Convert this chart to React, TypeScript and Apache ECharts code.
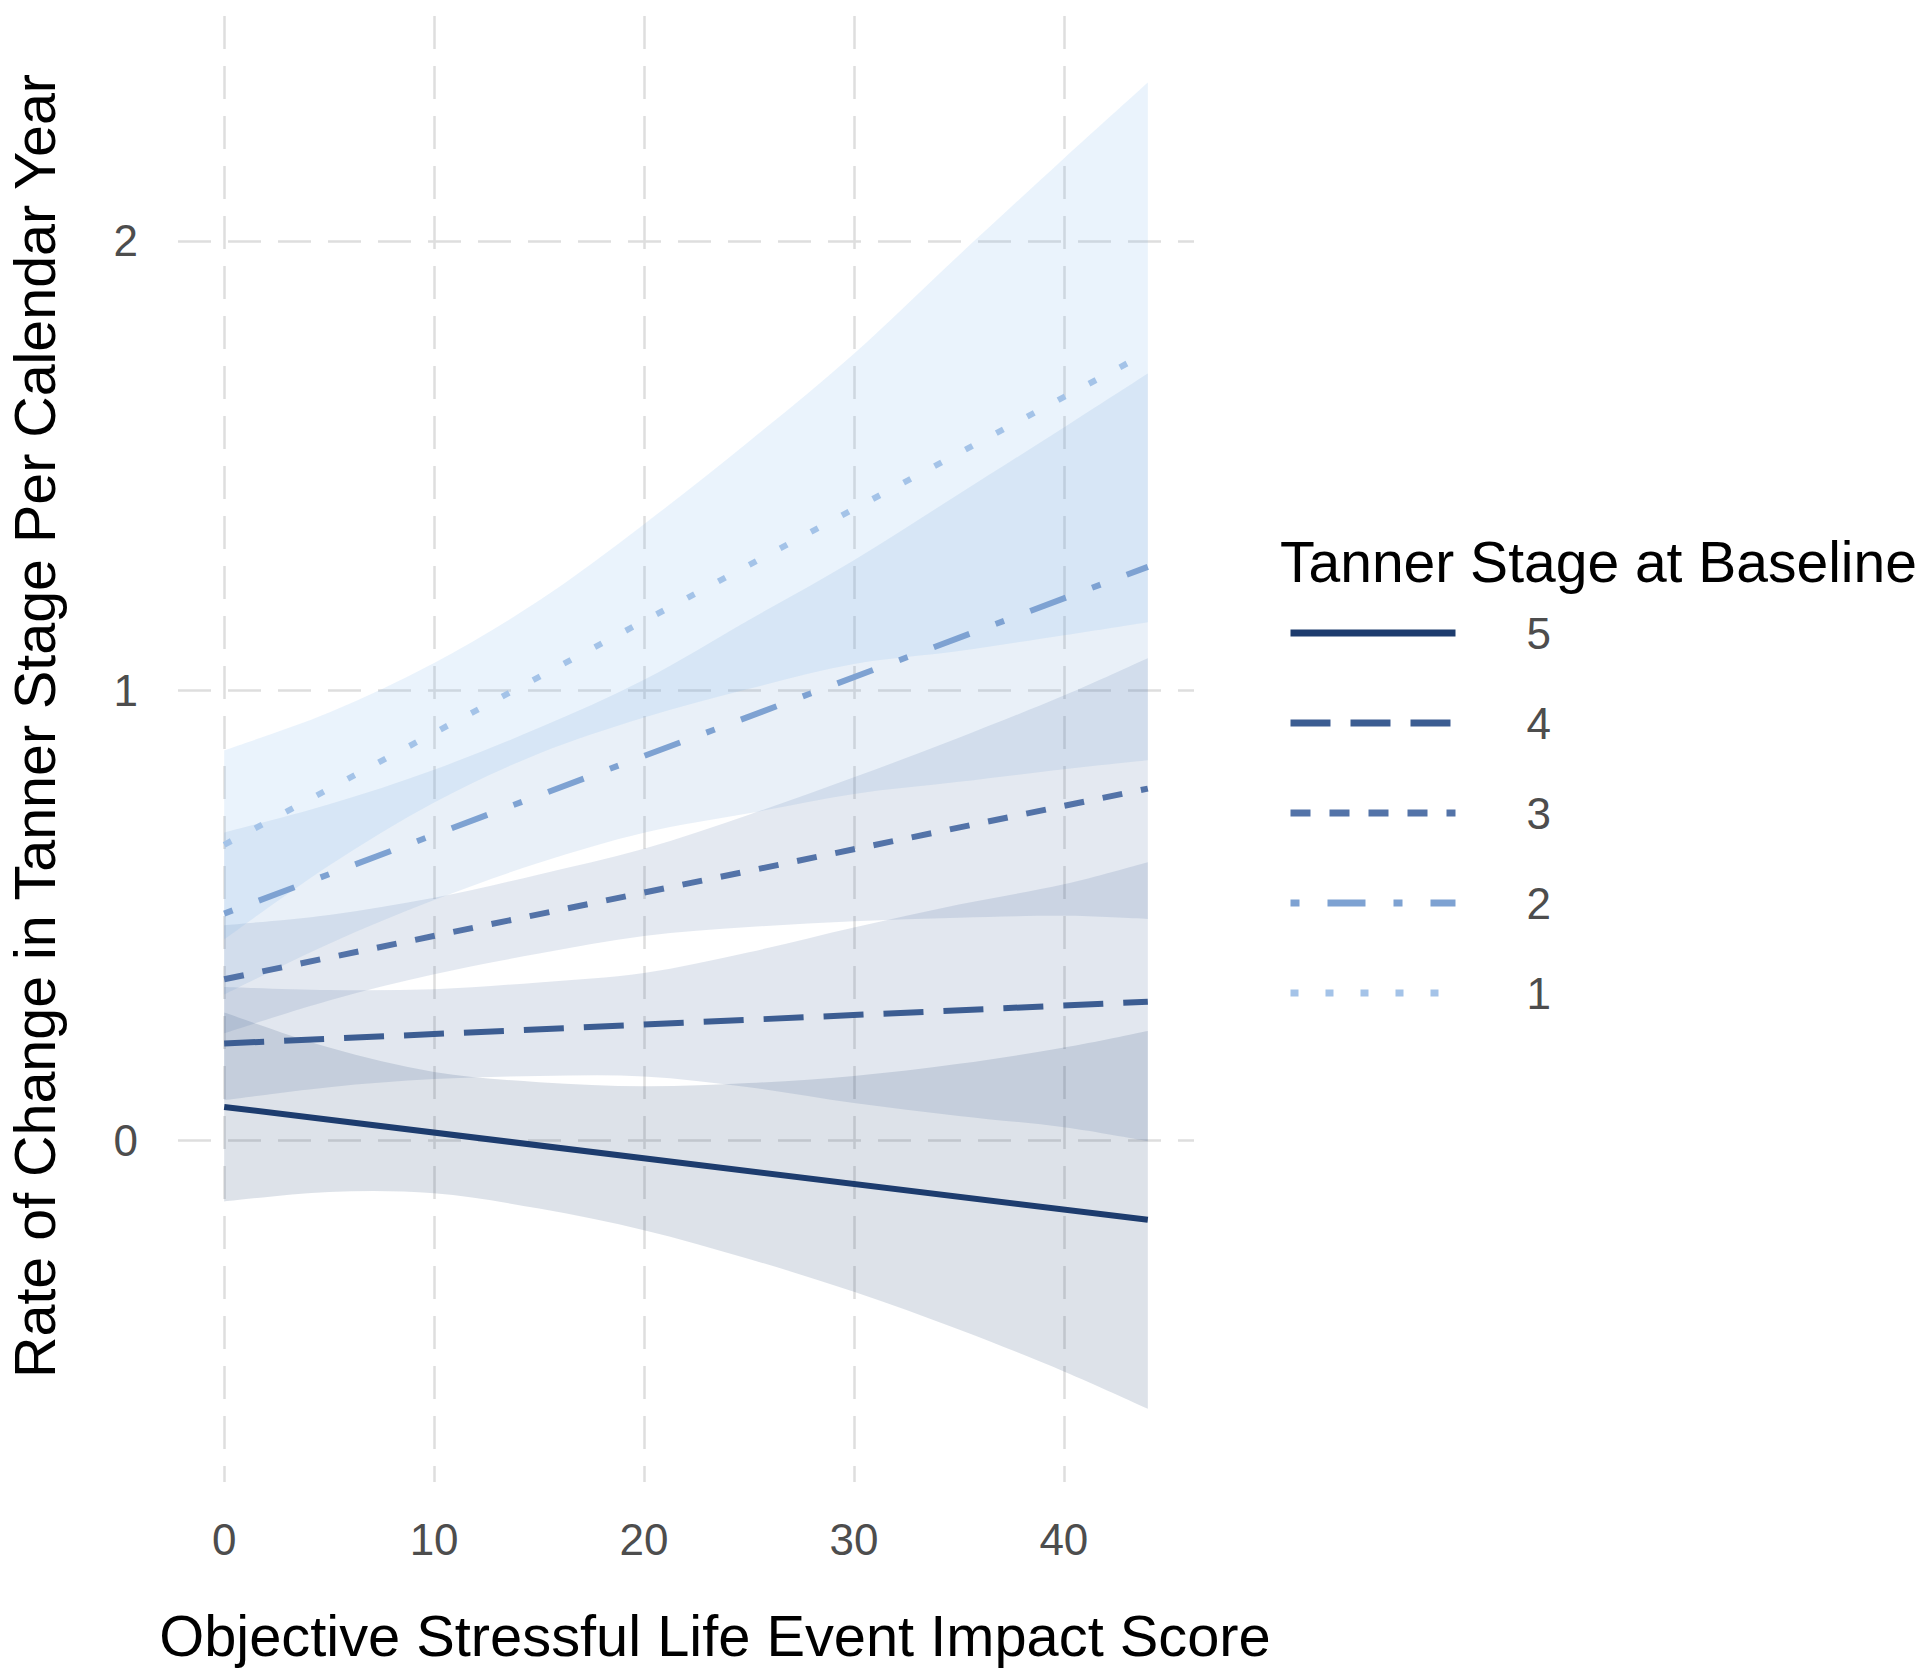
import React, { useEffect, useRef } from 'react';
import * as echarts from 'echarts';

const FONT = '"Liberation Sans", Arial, Helvetica, sans-serif';

// Tanner stage groups (legend order)
const stages = ['5', '4', '3', '2', '1'];

// x tick labels of the x axis
const xTicks = [0, 10, 20, 30, 40];
// y tick labels
const yTicks = [0, 1, 2];

// fitted lines: value at x = 0 and x = 44
const lineX = [0, 44];
const line5 = [0.074, -0.177];
const line4 = [0.215, 0.308];
const line3 = [0.358, 0.782];
const line2 = [0.504, 1.275];
const line1 = [0.657, 1.752];

// confidence ribbons, sampled at bandX
const bandX = [0, 5, 10, 15, 20, 25, 30, 35, 40, 44];
const upper5 = [0.284, 0.206, 0.152, 0.129, 0.12, 0.127, 0.143, 0.17, 0.206, 0.243];
const lower5 = [-0.136, -0.115, -0.118, -0.152, -0.2, -0.264, -0.337, -0.421, -0.514, -0.597];
const upper4 = [0.341, 0.334, 0.336, 0.351, 0.372, 0.418, 0.473, 0.524, 0.569, 0.618];
const lower4 = [0.089, 0.118, 0.136, 0.143, 0.142, 0.118, 0.083, 0.054, 0.029, -0.002];
const upper3 = [0.478, 0.501, 0.539, 0.591, 0.648, 0.724, 0.807, 0.895, 0.989, 1.072];
const lower3 = [0.238, 0.311, 0.369, 0.415, 0.454, 0.474, 0.487, 0.495, 0.499, 0.492];
const upper2 = [0.684, 0.747, 0.824, 0.917, 1.024, 1.157, 1.29, 1.437, 1.585, 1.705];
const lower2 = [0.324, 0.437, 0.534, 0.617, 0.684, 0.727, 0.77, 0.797, 0.825, 0.845];
const upper1 = [0.867, 0.951, 1.061, 1.2, 1.37, 1.554, 1.749, 1.968, 2.183, 2.352];
const lower1 = [0.447, 0.611, 0.751, 0.86, 0.94, 1.004, 1.059, 1.088, 1.123, 1.152];

const lines = [line5, line4, line3, line2, line1];
const uppers = [upper5, upper4, upper3, upper2, upper1];
const lowers = [lower5, lower4, lower3, lower2, lower1];

const lineColors = ['#1d3c6e', '#3c5d92', '#5373a8', '#7ea2d2', '#a4c3e8'];
const ribbonColors = [
  'rgba(29,60,110,0.15)',
  'rgba(60,93,146,0.15)',
  'rgba(74,106,160,0.15)',
  'rgba(110,152,207,0.15)',
  'rgba(115,175,235,0.15)',
];
const dashes: any[] = ['solid', [40, 20], [20, 19], [9, 28, 38, 28], [8, 27]];

let registered = false;
function registerRibbon() {
  if (registered) return;
  registered = true;
  const smoothTo = (ctx: any, pts: number[][]) => {
    for (let i = 0; i < pts.length - 1; i++) {
      const p0 = pts[i - 1] || pts[i];
      const p1 = pts[i];
      const p2 = pts[i + 1];
      const p3 = pts[i + 2] || p2;
      ctx.bezierCurveTo(
        p1[0] + (p2[0] - p0[0]) / 6,
        p1[1] + (p2[1] - p0[1]) / 6,
        p2[0] - (p3[0] - p1[0]) / 6,
        p2[1] - (p3[1] - p1[1]) / 6,
        p2[0],
        p2[1]
      );
    }
  };
  const Ribbon = (echarts.graphic as any).extendShape({
    shape: { upper: [], lower: [] },
    buildPath(ctx: any, shape: any) {
      const up = shape.upper;
      const lo = shape.lower.slice().reverse();
      if (!up.length) return;
      ctx.moveTo(up[0][0], up[0][1]);
      smoothTo(ctx, up);
      ctx.lineTo(lo[0][0], lo[0][1]);
      smoothTo(ctx, lo);
      ctx.closePath();
    },
  });
  (echarts.graphic as any).registerShape('ribbonBand', Ribbon);
}

export default function App() {
  const ref = useRef<HTMLDivElement>(null);
  useEffect(() => {
    if (!ref.current) return;
    registerRibbon();
    const chart = echarts.init(ref.current, null, { renderer: 'svg' });

    const ribbonSeries = stages.map((s, idx) => ({
      type: 'custom',
      name: 'CI ' + s,
      silent: true,
      z: 1,
      clip: true,
      data: bandX.map((x, i) => [x, lowers[idx][i], uppers[idx][i]]),
      encode: { x: 0, y: [1, 2] },
      renderItem: (params: any, api: any) => {
        if (params.dataIndex !== 0) return null;
        const up = bandX.map((x, i) => api.coord([x, uppers[idx][i]]));
        const lo = bandX.map((x, i) => api.coord([x, lowers[idx][i]]));
        return {
          type: 'ribbonBand',
          shape: { upper: up, lower: lo },
          style: { fill: ribbonColors[idx], stroke: null },
        };
      },
    }));

    const lineSeries = stages.map((s, idx) => ({
      type: 'line',
      name: s,
      silent: true,
      z: 3,
      symbol: 'none',
      showSymbol: false,
      data: lineX.map((x, i) => [x, lines[idx][i]]),
      lineStyle: { color: lineColors[idx], width: 6, type: dashes[idx], cap: 'butt' },
      itemStyle: { color: lineColors[idx] },
    }));

    const option: any = {
      animation: false,
      backgroundColor: '#ffffff',
      textStyle: { fontFamily: FONT },
      title: {
        text: 'Tanner Stage at Baseline',
        left: 1275,
        top: 528,
        textStyle: { fontSize: 57, fontWeight: 'normal', color: '#000000', fontFamily: FONT },
      },
      legend: {
        data: stages,
        orient: 'vertical',
        left: 1282,
        top: 603,
        itemWidth: 165,
        itemHeight: 30,
        itemGap: 40,
        selectedMode: false,
        itemStyle: { opacity: 0 },
        lineStyle: { width: 7 },
        textStyle: {
          fontSize: 44,
          lineHeight: 50,
          color: '#4d4d4d',
          fontFamily: FONT,
          padding: [0, 0, 0, 66],
        },
      },
      grid: { left: 178, right: 726, top: 16, bottom: 193, outerBoundsMode: 'none' },
      xAxis: {
        type: 'value',
        min: -2.2,
        max: 46.2,
        splitNumber: 5,
        minInterval: 10,
        maxInterval: 10,
        name: 'Objective Stressful Life Event Impact Score',
        nameLocation: 'middle',
        nameGap: 125,
        nameTextStyle: { fontSize: 57.8, color: '#000000', fontFamily: FONT, padding: [0, 0, 0, 58] },
        axisLine: { show: false },
        axisTick: { show: false },
        axisLabel: {
          fontSize: 44,
          color: '#4d4d4d',
          margin: 35,
          fontFamily: FONT,
          showMinLabel: false,
          showMaxLabel: false,
          formatter: (v: number) => (xTicks.indexOf(v) >= 0 ? String(v) : ''),
        },
        splitLine: {
          show: true,
          showMinLine: false,
          showMaxLine: false,
          lineStyle: { color: '#dedede', width: 2.5, type: [33, 17] },
        },
      },
      yAxis: {
        type: 'value',
        min: -0.76,
        max: 2.5,
        splitNumber: 3,
        minInterval: 1,
        maxInterval: 1,
        name: 'Rate of Change in Tanner Stage Per Calendar Year',
        nameLocation: 'middle',
        nameGap: 116,
        nameTextStyle: {
          fontSize: 57.4,
          lineHeight: 54,
          color: '#000000',
          fontFamily: FONT,
          padding: [0, 0, 0, 46],
        },
        axisLine: { show: false },
        axisTick: { show: false },
        axisLabel: {
          fontSize: 44,
          color: '#4d4d4d',
          margin: 40,
          fontFamily: FONT,
          showMinLabel: false,
          showMaxLabel: false,
          formatter: (v: number) => (yTicks.indexOf(v) >= 0 ? String(v) : ''),
        },
        splitLine: {
          show: true,
          showMinLine: false,
          showMaxLine: false,
          lineStyle: { color: '#dedede', width: 2.5, type: [33, 17] },
        },
      },
      series: [...ribbonSeries, ...lineSeries],
    };
    chart.setOption(option);
    return () => chart.dispose();
  }, []);
  return (
    <div
      ref={ref}
      style={{ position: 'absolute', left: 0, top: 0, width: 1920, height: 1675, background: '#fff' }}
    />
  );
}
